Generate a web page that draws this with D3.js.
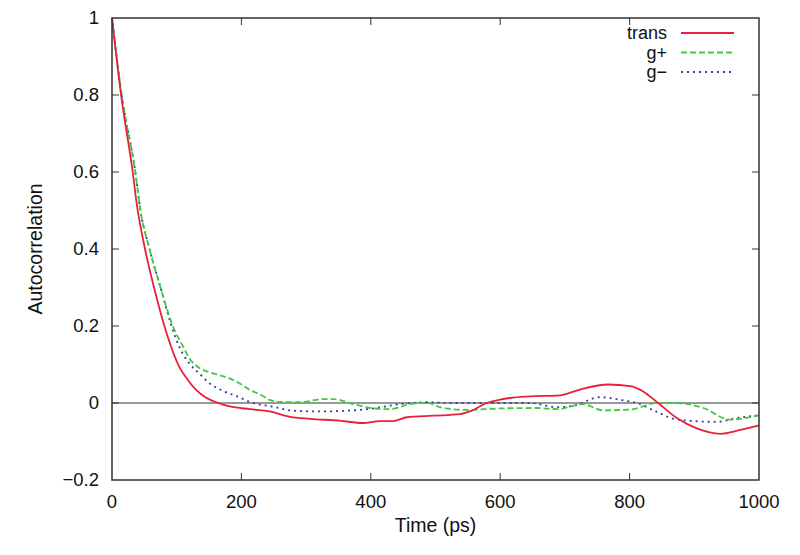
<!DOCTYPE html>
<html>
<head>
<meta charset="utf-8">
<script src="https://cdn.jsdelivr.net/npm/d3@7"></script>
<style>
  body { margin: 0; background: #fff; }
  svg text { font-family: "Liberation Sans", Arial, sans-serif; fill: #111; }
</style>
</head>
<body>
<svg id="chart" width="800" height="555"></svg>
<script>
'use strict';

// time (ps), autocorrelation
const trans = [
    [0, 1], [14, 0.8], [32, 0.6], [38, 0.52], [51, 0.4], [65, 0.3], [81, 0.2], [104, 0.094],
    [118, 0.058], [130, 0.034], [145, 0.014], [164, 0], [182, -0.009], [213, -0.016],
    [244, -0.022], [275, -0.036], [306, -0.041], [352, -0.046], [388, -0.052], [414, -0.047],
    [434, -0.047], [456, -0.037], [496, -0.033], [538, -0.029], [553, -0.022], [579, 0],
    [600, 0.009], [615, 0.013], [646, 0.017], [692, 0.02], [723, 0.035], [767, 0.048],
    [801, 0.044], [821, 0.03], [844, 0], [873, -0.039], [904, -0.066], [940, -0.08],
    [971, -0.07], [1000, -0.058]
];
const gPlus = [
    [0, 1], [15, 0.8], [36, 0.6], [44, 0.5], [58, 0.4], [75, 0.3], [94, 0.2], [110, 0.146],
    [120, 0.115], [136, 0.09], [150, 0.08], [167, 0.072], [182, 0.064], [198, 0.05],
    [213, 0.034], [229, 0.022], [244, 0.008], [256, 0.003], [291, 0.002], [326, 0.01],
    [342, 0.01], [373, -0.003], [404, -0.014], [430, -0.016], [461, -0.003], [486, 0.001],
    [507, -0.011], [548, -0.018], [600, -0.014], [656, -0.013], [688, -0.016], [728, -0.003],
    [759, -0.019], [801, -0.017], [842, 0], [873, 0], [914, -0.013], [955, -0.043],
    [1000, -0.032]
];
const gMinus = [
    [0, 1], [15, 0.8], [36, 0.6], [44, 0.5], [58, 0.4], [75, 0.3], [92, 0.2], [104, 0.146],
    [120, 0.102], [136, 0.075], [150, 0.052], [167, 0.035], [198, 0.014], [213, 0.003],
    [250, -0.01], [280, -0.02], [321, -0.022], [363, -0.02], [404, -0.014], [445, -0.003],
    [486, 0.002], [527, 0], [600, 0], [646, 0], [688, -0.011], [713, -0.007], [754, 0.015],
    [790, 0.007], [811, 0], [842, -0.023], [873, -0.043], [935, -0.049], [966, -0.039],
    [1000, -0.032]
];

const seriesNames = ["trans", "g+", "g\u2212"];
const seriesData = [trans, gPlus, gMinus];
const xTicks = [0, 200, 400, 600, 800, 1000];
const yTicks = [-0.2, 0, 0.2, 0.4, 0.6, 0.8, 1];

const colors = ["#e8203a", "#3ccc3c", "#3a3aa8"];
const dashes = [null, "6,3", "2,4"];

const svg = d3.select("#chart"),
    margin = { top: 18, right: 41, bottom: 75, left: 112 },
    width = +svg.attr("width") - margin.left - margin.right,
    height = +svg.attr("height") - margin.top - margin.bottom;

const x = d3.scaleLinear().domain([0, 1000]).range([0, width]),
    y = d3.scaleLinear().domain([-0.2, 1]).range([height, 0]);

const g = svg.append("g")
    .attr("transform", `translate(${margin.left},${margin.top})`);

const axisColor = "#333";
const tickLen = 7;

// tick labels
g.selectAll(".xlab").data(xTicks).enter().append("text")
    .attr("x", d => x(d))
    .attr("y", height + 28)
    .attr("text-anchor", "middle")
    .style("font-size", "18.5px")
    .text(d => d);

g.selectAll(".ylab").data(yTicks).enter().append("text")
    .attr("x", -13)
    .attr("y", d => y(d))
    .attr("dy", "0.35em")
    .attr("text-anchor", "end")
    .style("font-size", "18.5px")
    .text(d => d3.format("")(d).replace("-", "\u2212"));

// ticks, mirrored on all four sides
const ticks = g.append("g").attr("stroke", axisColor).attr("stroke-width", 1);
xTicks.slice(1, -1).forEach(d => {
    ticks.append("line").attr("x1", x(d)).attr("x2", x(d)).attr("y1", height).attr("y2", height - tickLen);
    ticks.append("line").attr("x1", x(d)).attr("x2", x(d)).attr("y1", 0).attr("y2", tickLen);
});
yTicks.slice(1, -1).forEach(d => {
    ticks.append("line").attr("x1", 0).attr("x2", tickLen).attr("y1", y(d)).attr("y2", y(d));
    ticks.append("line").attr("x1", width).attr("x2", width - tickLen).attr("y1", y(d)).attr("y2", y(d));
});

// zero line
g.append("line")
    .attr("x1", 0).attr("x2", width)
    .attr("y1", y(0)).attr("y2", y(0))
    .attr("stroke", axisColor).attr("stroke-width", 1.2);

const line = d3.line()
    .curve(d3.curveMonotoneX)
    .x(d => x(d[0]))
    .y(d => y(d[1]));

// draw in reverse so trans sits on top
seriesData.map((s, i) => i).reverse().forEach(i => {
    g.append("path")
        .datum(seriesData[i])
        .attr("fill", "none")
        .attr("stroke", colors[i])
        .attr("stroke-width", 1.8)
        .attr("stroke-dasharray", dashes[i])
        .attr("d", line);
});

// frame
g.append("rect")
    .attr("width", width).attr("height", height)
    .attr("fill", "none")
    .attr("stroke", axisColor).attr("stroke-width", 1.5);

// legend
const legend = g.append("g").attr("transform", `translate(${width - 92},15)`);
seriesNames.forEach((name, i) => {
    const row = legend.append("g").attr("transform", `translate(0,${i * 19.5})`);
    row.append("text")
        .attr("x", 0).attr("y", 0).attr("dy", "0.35em")
        .attr("text-anchor", "end")
        .style("font-size", "18px")
        .text(name);
    row.append("line")
        .attr("x1", 14).attr("x2", 67)
        .attr("stroke", colors[i])
        .attr("stroke-width", 1.8)
        .attr("stroke-dasharray", dashes[i]);
});

// axis titles
svg.append("text")
    .attr("transform", `translate(42,${margin.top + height / 2}) rotate(-90)`)
    .attr("text-anchor", "middle")
    .style("font-size", "19.5px")
    .text("Autocorrelation");

svg.append("text")
    .attr("x", margin.left + width / 2)
    .attr("y", 532)
    .attr("text-anchor", "middle")
    .style("font-size", "19.5px")
    .text("Time (ps)");
</script>
</body>
</html>
